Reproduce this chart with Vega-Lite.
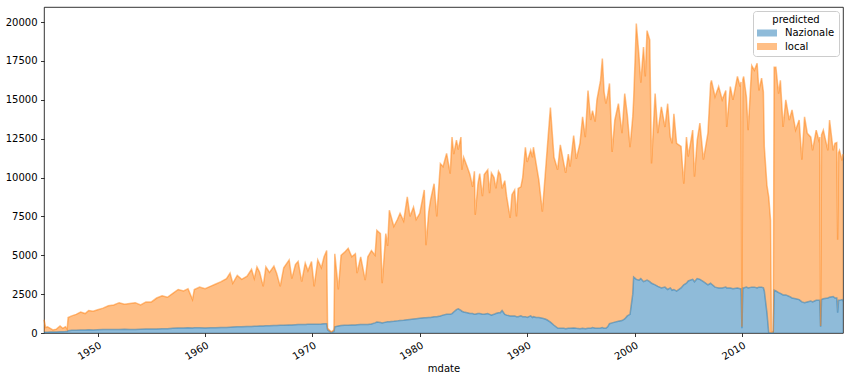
{
  "$schema": "https://vega.github.io/schema/vega-lite/v6.json",
  "width": 799,
  "height": 326,
  "autosize": {"type": "none"},
  "padding": {"left": 44, "top": 7, "right": 7, "bottom": 48},
  "background": "white",
  "config": {
    "view": {"stroke": "#000", "strokeWidth": 0.8},
    "font": "DejaVu Sans",
    "axis": {
      "domain": false, "grid": false,
      "labelFont": "DejaVu Sans", "labelFontSize": 10, "labelColor": "#000",
      "tickColor": "#000", "tickSize": 3.5, "tickWidth": 0.8, "labelPadding": 3.5,
      "titleFont": "DejaVu Sans", "titleFontSize": 10, "titleFontWeight": "normal", "titleColor": "#000"
    },
    "legend": {"titleFontWeight": "normal", "titleFont": "DejaVu Sans", "titleFontSize": 10, "titleColor": "#000"}
  },
  "data": {
    "format": {"parse": {"d": "utc:'%Y-%m'"}},
    "values": [
      {"d":"1945-01","Nazionale":50,"local":800},
      {"d":"1945-03","Nazionale":50,"local":300},
      {"d":"1945-05","Nazionale":50,"local":350},
      {"d":"1945-08","Nazionale":60,"local":240},
      {"d":"1945-11","Nazionale":60,"local":140},
      {"d":"1946-03","Nazionale":70,"local":180},
      {"d":"1946-07","Nazionale":80,"local":370},
      {"d":"1946-10","Nazionale":80,"local":220},
      {"d":"1947-01","Nazionale":90,"local":310},
      {"d":"1947-03","Nazionale":100,"local":150},
      {"d":"1947-04","Nazionale":150,"local":850},
      {"d":"1947-08","Nazionale":170,"local":930},
      {"d":"1948-01","Nazionale":180,"local":1020},
      {"d":"1948-06","Nazionale":200,"local":1150},
      {"d":"1948-11","Nazionale":200,"local":1050},
      {"d":"1949-03","Nazionale":210,"local":1240},
      {"d":"1949-08","Nazionale":200,"local":1200},
      {"d":"1950-01","Nazionale":210,"local":1290},
      {"d":"1950-07","Nazionale":220,"local":1380},
      {"d":"1951-01","Nazionale":220,"local":1530},
      {"d":"1951-07","Nazionale":230,"local":1570},
      {"d":"1952-01","Nazionale":230,"local":1720},
      {"d":"1952-07","Nazionale":240,"local":1610},
      {"d":"1953-01","Nazionale":220,"local":1680},
      {"d":"1953-07","Nazionale":230,"local":1720},
      {"d":"1954-01","Nazionale":240,"local":1560},
      {"d":"1954-07","Nazionale":250,"local":1750},
      {"d":"1955-01","Nazionale":260,"local":1740},
      {"d":"1955-07","Nazionale":260,"local":1990},
      {"d":"1956-01","Nazionale":270,"local":2130},
      {"d":"1956-07","Nazionale":280,"local":2020},
      {"d":"1957-01","Nazionale":300,"local":2250},
      {"d":"1957-07","Nazionale":320,"local":2480},
      {"d":"1958-01","Nazionale":320,"local":2380},
      {"d":"1958-06","Nazionale":330,"local":2520},
      {"d":"1958-11","Nazionale":320,"local":1830},
      {"d":"1959-01","Nazionale":330,"local":2470},
      {"d":"1959-07","Nazionale":340,"local":2610},
      {"d":"1960-01","Nazionale":320,"local":2530},
      {"d":"1960-07","Nazionale":330,"local":2670},
      {"d":"1961-01","Nazionale":340,"local":2810},
      {"d":"1961-07","Nazionale":350,"local":2950},
      {"d":"1962-01","Nazionale":360,"local":3140},
      {"d":"1962-05","Nazionale":370,"local":3480},
      {"d":"1962-08","Nazionale":380,"local":2820},
      {"d":"1963-01","Nazionale":400,"local":3300},
      {"d":"1963-06","Nazionale":400,"local":3050},
      {"d":"1963-12","Nazionale":420,"local":3230},
      {"d":"1964-05","Nazionale":420,"local":3680},
      {"d":"1964-08","Nazionale":430,"local":3070},
      {"d":"1964-11","Nazionale":440,"local":3810},
      {"d":"1965-02","Nazionale":450,"local":3450},
      {"d":"1965-06","Nazionale":450,"local":2550},
      {"d":"1965-09","Nazionale":460,"local":3790},
      {"d":"1966-01","Nazionale":470,"local":3430},
      {"d":"1966-06","Nazionale":480,"local":3820},
      {"d":"1966-09","Nazionale":480,"local":3370},
      {"d":"1967-01","Nazionale":500,"local":2500},
      {"d":"1967-05","Nazionale":500,"local":3700},
      {"d":"1967-11","Nazionale":520,"local":4180},
      {"d":"1968-02","Nazionale":520,"local":2980},
      {"d":"1968-06","Nazionale":530,"local":3870},
      {"d":"1968-09","Nazionale":540,"local":4060},
      {"d":"1969-01","Nazionale":540,"local":2760},
      {"d":"1969-05","Nazionale":550,"local":3950},
      {"d":"1969-08","Nazionale":560,"local":3440},
      {"d":"1969-12","Nazionale":560,"local":4040},
      {"d":"1970-03","Nazionale":570,"local":2430},
      {"d":"1970-07","Nazionale":570,"local":4130},
      {"d":"1970-11","Nazionale":580,"local":3620},
      {"d":"1971-02","Nazionale":600,"local":4300},
      {"d":"1971-05","Nazionale":600,"local":4700},
      {"d":"1971-06","Nazionale":200,"local":100},
      {"d":"1971-10","Nazionale":20,"local":60},
      {"d":"1972-01","Nazionale":100,"local":100},
      {"d":"1972-02","Nazionale":400,"local":4700},
      {"d":"1972-06","Nazionale":450,"local":2350},
      {"d":"1972-09","Nazionale":480,"local":4520},
      {"d":"1973-01","Nazionale":500,"local":4700},
      {"d":"1973-05","Nazionale":500,"local":4950},
      {"d":"1973-09","Nazionale":520,"local":4380},
      {"d":"1974-01","Nazionale":520,"local":4580},
      {"d":"1974-03","Nazionale":530,"local":3320},
      {"d":"1974-07","Nazionale":540,"local":4360},
      {"d":"1974-12","Nazionale":550,"local":2850},
      {"d":"1975-03","Nazionale":550,"local":4350},
      {"d":"1975-07","Nazionale":580,"local":4720},
      {"d":"1975-11","Nazionale":650,"local":4350},
      {"d":"1976-01","Nazionale":700,"local":5900},
      {"d":"1976-05","Nazionale":680,"local":5720},
      {"d":"1976-07","Nazionale":650,"local":2550},
      {"d":"1976-11","Nazionale":700,"local":5700},
      {"d":"1977-01","Nazionale":720,"local":4880},
      {"d":"1977-03","Nazionale":730,"local":7170},
      {"d":"1977-08","Nazionale":750,"local":6100},
      {"d":"1977-12","Nazionale":780,"local":6520},
      {"d":"1978-03","Nazionale":800,"local":6900},
      {"d":"1978-07","Nazionale":820,"local":6380},
      {"d":"1978-11","Nazionale":850,"local":7900},
      {"d":"1979-02","Nazionale":870,"local":6630},
      {"d":"1979-06","Nazionale":900,"local":7200},
      {"d":"1979-09","Nazionale":920,"local":6380},
      {"d":"1980-01","Nazionale":950,"local":6750},
      {"d":"1980-06","Nazionale":980,"local":8220},
      {"d":"1980-08","Nazionale":980,"local":4670},
      {"d":"1980-11","Nazionale":1000,"local":6800},
      {"d":"1981-01","Nazionale":1000,"local":7550},
      {"d":"1981-05","Nazionale":1050,"local":8550},
      {"d":"1981-08","Nazionale":1050,"local":6450},
      {"d":"1981-12","Nazionale":1100,"local":9800},
      {"d":"1982-03","Nazionale":1150,"local":9550},
      {"d":"1982-07","Nazionale":1200,"local":10350},
      {"d":"1982-11","Nazionale":1200,"local":9050},
      {"d":"1983-01","Nazionale":1250,"local":11350},
      {"d":"1983-03","Nazionale":1350,"local":10150},
      {"d":"1983-06","Nazionale":1500,"local":10900},
      {"d":"1983-08","Nazionale":1550,"local":10250},
      {"d":"1983-11","Nazionale":1450,"local":11150},
      {"d":"1983-12","Nazionale":1400,"local":9100},
      {"d":"1984-02","Nazionale":1350,"local":9950},
      {"d":"1984-06","Nazionale":1300,"local":9400},
      {"d":"1984-09","Nazionale":1250,"local":8950},
      {"d":"1984-12","Nazionale":1250,"local":8150},
      {"d":"1985-02","Nazionale":1200,"local":9200},
      {"d":"1985-03","Nazionale":1200,"local":6400},
      {"d":"1985-06","Nazionale":1250,"local":8350},
      {"d":"1985-08","Nazionale":1250,"local":9000},
      {"d":"1985-11","Nazionale":1200,"local":7600},
      {"d":"1986-01","Nazionale":1200,"local":9000},
      {"d":"1986-05","Nazionale":1250,"local":9250},
      {"d":"1986-07","Nazionale":1200,"local":7800},
      {"d":"1986-09","Nazionale":1150,"local":9150},
      {"d":"1986-12","Nazionale":1200,"local":8800},
      {"d":"1987-02","Nazionale":1250,"local":8050},
      {"d":"1987-05","Nazionale":1300,"local":9100},
      {"d":"1987-07","Nazionale":1300,"local":8900},
      {"d":"1987-09","Nazionale":1450,"local":7850},
      {"d":"1987-12","Nazionale":1200,"local":8600},
      {"d":"1988-02","Nazionale":1150,"local":7650},
      {"d":"1988-06","Nazionale":1100,"local":6300},
      {"d":"1988-08","Nazionale":1100,"local":7800},
      {"d":"1988-11","Nazionale":1100,"local":8100},
      {"d":"1989-01","Nazionale":1050,"local":6450},
      {"d":"1989-03","Nazionale":1050,"local":8250},
      {"d":"1989-06","Nazionale":1100,"local":8300},
      {"d":"1989-08","Nazionale":1050,"local":8950},
      {"d":"1989-11","Nazionale":1050,"local":10900},
      {"d":"1990-01","Nazionale":1000,"local":10000},
      {"d":"1990-05","Nazionale":1100,"local":10650},
      {"d":"1990-07","Nazionale":1000,"local":10300},
      {"d":"1990-08","Nazionale":1050,"local":10900},
      {"d":"1990-11","Nazionale":1000,"local":9900},
      {"d":"1991-02","Nazionale":1000,"local":8850},
      {"d":"1991-06","Nazionale":950,"local":6850},
      {"d":"1991-09","Nazionale":900,"local":9150},
      {"d":"1991-11","Nazionale":850,"local":10700},
      {"d":"1992-03","Nazionale":700,"local":13800},
      {"d":"1992-07","Nazionale":500,"local":10800},
      {"d":"1992-11","Nazionale":320,"local":10180},
      {"d":"1993-02","Nazionale":300,"local":11800},
      {"d":"1993-06","Nazionale":300,"local":10600},
      {"d":"1993-08","Nazionale":280,"local":10020},
      {"d":"1993-11","Nazionale":300,"local":11200},
      {"d":"1994-01","Nazionale":300,"local":10400},
      {"d":"1994-05","Nazionale":320,"local":12380},
      {"d":"1994-08","Nazionale":300,"local":10900},
      {"d":"1994-12","Nazionale":280,"local":11920},
      {"d":"1995-03","Nazionale":300,"local":13600},
      {"d":"1995-06","Nazionale":280,"local":12320},
      {"d":"1995-09","Nazionale":300,"local":15300},
      {"d":"1995-12","Nazionale":300,"local":13400},
      {"d":"1996-02","Nazionale":350,"local":13950},
      {"d":"1996-05","Nazionale":300,"local":13300},
      {"d":"1996-07","Nazionale":300,"local":14700},
      {"d":"1996-11","Nazionale":320,"local":15930},
      {"d":"1997-01","Nazionale":350,"local":17300},
      {"d":"1997-03","Nazionale":300,"local":15200},
      {"d":"1997-05","Nazionale":300,"local":14450},
      {"d":"1997-07","Nazionale":400,"local":14900},
      {"d":"1997-09","Nazionale":600,"local":15450},
      {"d":"1997-12","Nazionale":650,"local":11000},
      {"d":"1998-03","Nazionale":700,"local":13000},
      {"d":"1998-07","Nazionale":750,"local":14000},
      {"d":"1998-11","Nazionale":800,"local":12050},
      {"d":"1999-02","Nazionale":900,"local":14500},
      {"d":"1999-05","Nazionale":1100,"local":12900},
      {"d":"1999-08","Nazionale":1200,"local":10750},
      {"d":"1999-11","Nazionale":2500,"local":11400},
      {"d":"1999-12","Nazionale":3600,"local":11400},
      {"d":"2000-02","Nazionale":3500,"local":14700},
      {"d":"2000-03","Nazionale":3450,"local":16450},
      {"d":"2000-06","Nazionale":3400,"local":14400},
      {"d":"2000-08","Nazionale":3500,"local":12600},
      {"d":"2000-11","Nazionale":3300,"local":15100},
      {"d":"2001-01","Nazionale":3350,"local":13150},
      {"d":"2001-03","Nazionale":3400,"local":16050},
      {"d":"2001-06","Nazionale":3300,"local":15550},
      {"d":"2001-08","Nazionale":3200,"local":7700},
      {"d":"2001-12","Nazionale":3100,"local":12300},
      {"d":"2002-03","Nazionale":3000,"local":9850},
      {"d":"2002-07","Nazionale":2900,"local":11650},
      {"d":"2002-11","Nazionale":2950,"local":10300},
      {"d":"2003-02","Nazionale":2800,"local":11950},
      {"d":"2003-05","Nazionale":2900,"local":9700},
      {"d":"2003-07","Nazionale":2750,"local":9450},
      {"d":"2003-09","Nazionale":2800,"local":11300},
      {"d":"2003-12","Nazionale":2700,"local":9500},
      {"d":"2004-05","Nazionale":2900,"local":9100},
      {"d":"2004-08","Nazionale":3100,"local":6500},
      {"d":"2004-11","Nazionale":3200,"local":9400},
      {"d":"2005-01","Nazionale":3350,"local":8000},
      {"d":"2005-06","Nazionale":3450,"local":9600},
      {"d":"2005-08","Nazionale":3300,"local":6750},
      {"d":"2005-11","Nazionale":3500,"local":8900},
      {"d":"2006-02","Nazionale":3450,"local":10050},
      {"d":"2006-06","Nazionale":3300,"local":7850},
      {"d":"2006-11","Nazionale":3100,"local":9750},
      {"d":"2007-02","Nazionale":3200,"local":12850},
      {"d":"2007-03","Nazionale":3150,"local":13100},
      {"d":"2007-07","Nazionale":2950,"local":12250},
      {"d":"2007-11","Nazionale":2900,"local":12950},
      {"d":"2008-03","Nazionale":2900,"local":12100},
      {"d":"2008-07","Nazionale":2950,"local":12650},
      {"d":"2008-08","Nazionale":2900,"local":10350},
      {"d":"2008-12","Nazionale":2900,"local":12950},
      {"d":"2009-03","Nazionale":2850,"local":12150},
      {"d":"2009-08","Nazionale":2900,"local":13600},
      {"d":"2009-11","Nazionale":2850,"local":13000},
      {"d":"2009-12","Nazionale":2850,"local":13300},
      {"d":"2010-01","Nazionale":300,"local":100},
      {"d":"2010-02","Nazionale":2900,"local":13400},
      {"d":"2010-03","Nazionale":2900,"local":13600},
      {"d":"2010-06","Nazionale":2950,"local":12250},
      {"d":"2010-08","Nazionale":2900,"local":10150},
      {"d":"2010-12","Nazionale":2950,"local":14250},
      {"d":"2011-03","Nazionale":2950,"local":13950},
      {"d":"2011-06","Nazionale":2900,"local":14450},
      {"d":"2011-08","Nazionale":2950,"local":12650},
      {"d":"2011-11","Nazionale":2950,"local":13450},
      {"d":"2012-01","Nazionale":2900,"local":12600},
      {"d":"2012-02","Nazionale":2700,"local":9300},
      {"d":"2012-05","Nazionale":1300,"local":8200},
      {"d":"2012-07","Nazionale":0,"local":8750},
      {"d":"2012-09","Nazionale":0,"local":7250},
      {"d":"2012-10","Nazionale":0,"local":100},
      {"d":"2012-12","Nazionale":0,"local":100},
      {"d":"2013-01","Nazionale":2750,"local":14350},
      {"d":"2013-03","Nazionale":2700,"local":14400},
      {"d":"2013-06","Nazionale":2600,"local":12800},
      {"d":"2013-08","Nazionale":2550,"local":13700},
      {"d":"2013-11","Nazionale":2450,"local":10800},
      {"d":"2014-02","Nazionale":2450,"local":12550},
      {"d":"2014-06","Nazionale":2350,"local":11350},
      {"d":"2014-09","Nazionale":2250,"local":12100},
      {"d":"2015-01","Nazionale":2200,"local":10850},
      {"d":"2015-05","Nazionale":2150,"local":11550},
      {"d":"2015-08","Nazionale":2000,"local":9150},
      {"d":"2015-11","Nazionale":1950,"local":11950},
      {"d":"2016-02","Nazionale":2000,"local":10850},
      {"d":"2016-06","Nazionale":2050,"local":10550},
      {"d":"2016-08","Nazionale":2000,"local":9750},
      {"d":"2016-12","Nazionale":2100,"local":10950},
      {"d":"2017-03","Nazionale":2100,"local":10300},
      {"d":"2017-04","Nazionale":2100,"local":10500},
      {"d":"2017-05","Nazionale":400,"local":50},
      {"d":"2017-06","Nazionale":2150,"local":10600},
      {"d":"2017-08","Nazionale":2200,"local":10850},
      {"d":"2018-01","Nazionale":2250,"local":9500},
      {"d":"2018-03","Nazionale":2300,"local":11400},
      {"d":"2018-07","Nazionale":2350,"local":9400},
      {"d":"2018-09","Nazionale":2250,"local":9950},
      {"d":"2018-11","Nazionale":2250,"local":10000},
      {"d":"2018-12","Nazionale":1300,"local":4700},
      {"d":"2019-01","Nazionale":2100,"local":9500},
      {"d":"2019-02","Nazionale":2100,"local":9650},
      {"d":"2019-05","Nazionale":2150,"local":8950},
      {"d":"2019-06","Nazionale":2050,"local":9450}
    ]
  },
  "transform": [
    {"fold": ["Nazionale", "local"], "as": ["predicted", "value"]},
    {"stack": "value", "groupby": ["d"], "sort": [{"field": "predicted", "order": "ascending"}], "as": ["y0", "y1"]}
  ],
  "encoding": {
    "x": {
      "field": "d", "type": "temporal",
      "scale": {"type": "utc", "domain": [{"year": 1945, "month": 1, "date": 1, "utc": true}, {"year": 2019, "month": 6, "date": 1, "utc": true}]},
      "axis": {
        "values": [{"year": 1950, "utc": true}, {"year": 1960, "utc": true}, {"year": 1970, "utc": true}, {"year": 1980, "utc": true}, {"year": 1990, "utc": true}, {"year": 2000, "utc": true}, {"year": 2010, "utc": true}],
        "format": "%Y", "labelAngle": -30, "labelAlign": "right", "labelBaseline": "top",
        "labelFlush": false, "labelOverlap": false, "title": "mdate", "titlePadding": 2
      }
    }
  },
  "layer": [
    {
      "mark": {"type": "area", "opacity": 0.5},
      "encoding": {
        "y": {"field": "y1", "type": "quantitative",
          "scale": {"domain": [0, 20970], "nice": false, "zero": true},
          "axis": {"values": [0, 2500, 5000, 7500, 10000, 12500, 15000, 17500, 20000], "format": "d", "title": null}},
        "y2": {"field": "y0"},
        "color": {
          "field": "predicted", "type": "nominal",
          "scale": {"domain": ["Nazionale", "local"], "range": ["#1f77b4", "#ff7f0e"]},
          "legend": {
            "orient": "top-right", "offset": 4, "title": "predicted",
            "titleFont": "DejaVu Sans", "titleFontSize": 10, "titleFontWeight": "normal", "titleColor": "#000",
            "titleAnchor": "middle", "titlePadding": 3,
            "labelFont": "DejaVu Sans", "labelFontSize": 10, "labelColor": "#000",
            "symbolType": "M-2,-0.7H2V0.7H-2Z", "symbolSize": 100, "symbolOpacity": 0.5, "symbolStrokeWidth": 0,
            "symbolOffset": 5,
            "fillColor": "white", "strokeColor": "#cccccc", "padding": 4, "cornerRadius": 3,
            "labelOffset": 13, "rowPadding": 3.5
          }
        }
      }
    },
    {
      "mark": {"type": "line", "opacity": 0.5, "strokeWidth": 1.5},
      "encoding": {
        "y": {"field": "y1", "type": "quantitative"},
        "color": {"field": "predicted", "type": "nominal", "legend": null}
      }
    }
  ]
}
